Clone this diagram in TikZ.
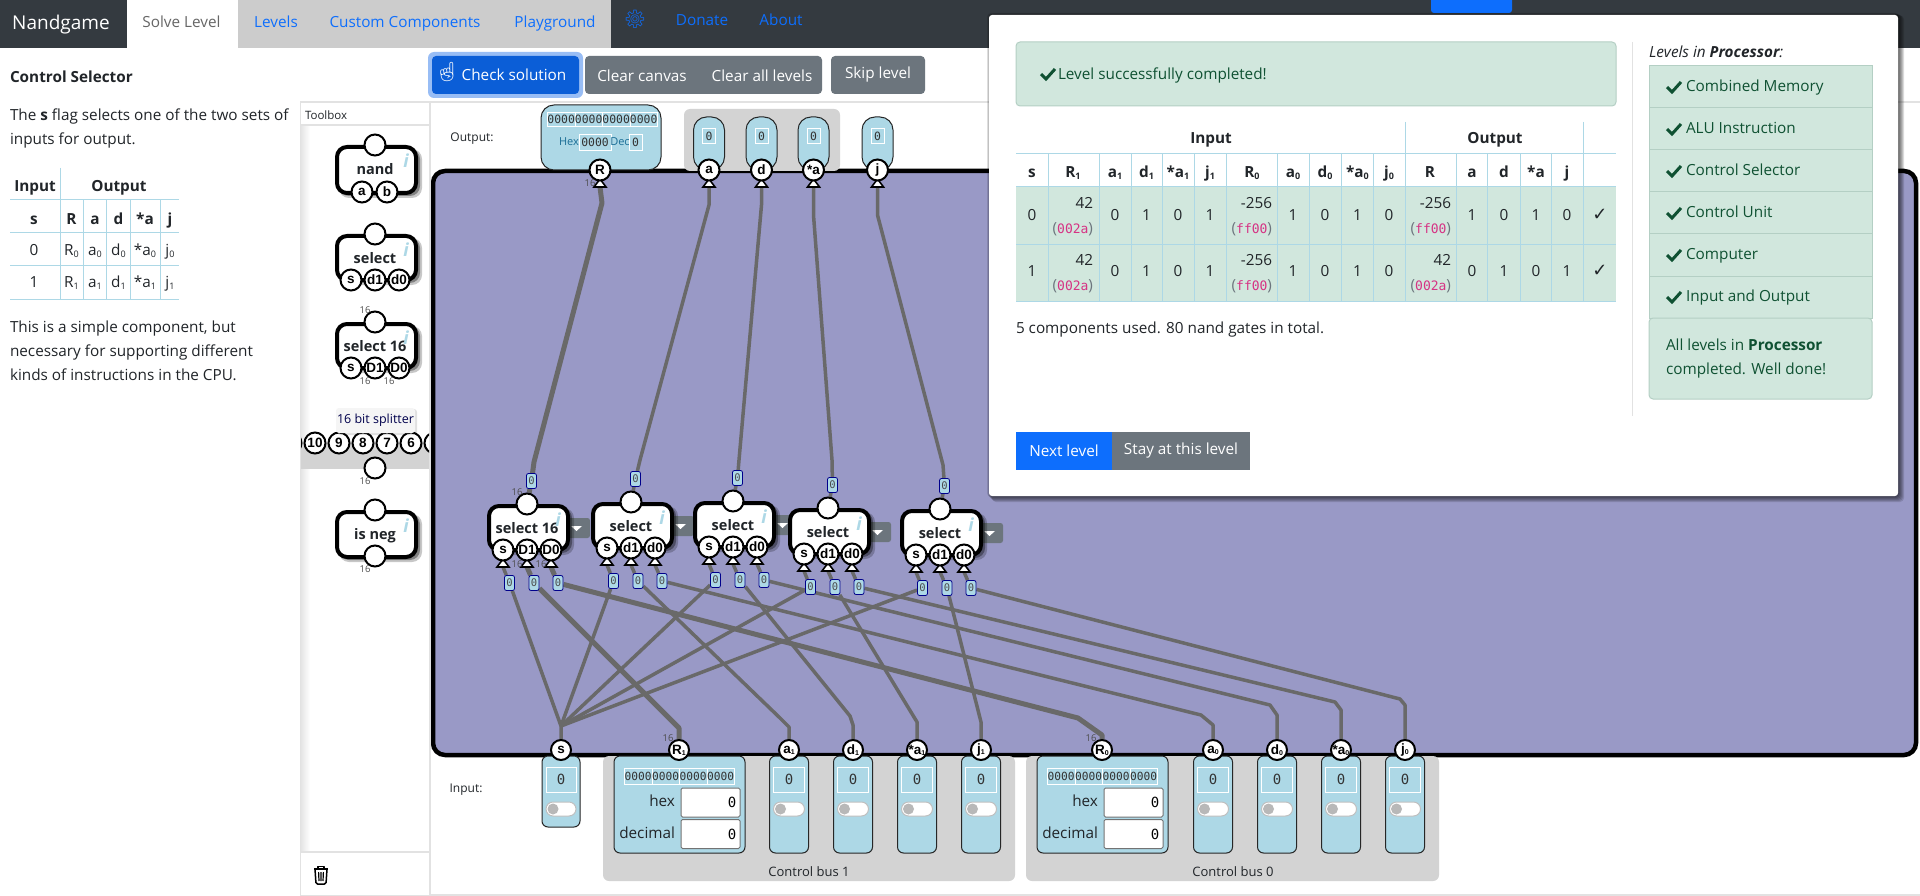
\documentclass[tikz,border=0pt]{standalone}
\usepackage{fontspec}
\setmainfont{Open Sans}
\newfontfamily\pinf{Liberation Sans}
\newfontfamily\monof{DejaVu Sans Mono}
\newfontfamily\emo{Noto Emoji}
\newfontfamily\djv{DejaVu Sans}
\usetikzlibrary{backgrounds}
\definecolor{nav}{HTML}{343A40}
\definecolor{tabgray}{HTML}{CCCCCC}
\definecolor{linkb}{HTML}{0D6EFD}
\definecolor{btnb}{HTML}{0B5ED7}
\definecolor{ring}{HTML}{98BDF5}
\definecolor{btng}{HTML}{6C757D}
\definecolor{ink}{HTML}{212529}
\definecolor{lb}{HTML}{ADD8E6}
\definecolor{board}{HTML}{9999C6}
\definecolor{busg}{HTML}{D3D3D3}
\definecolor{wirec}{HTML}{696969}
\definecolor{okbg}{HTML}{D1E7DD}
\definecolor{okbd}{HTML}{B4CFC4}
\definecolor{okfg}{HTML}{0F5132}
\definecolor{codep}{HTML}{D63384}
\definecolor{panelb}{HTML}{E2E2E2}
\definecolor{chipb}{HTML}{00008B}
\definecolor{hexc}{HTML}{1B6E96}
\pgfdeclarelayer{boardlayer}
\pgfdeclarelayer{wirelayer}
\pgfsetlayers{boardlayer,wirelayer,main}
\newcommand\fz[1]{\fontsize{#1}{#1}\selectfont}
\newcounter{tn}
\newcommand\T[4][]{\stepcounter{tn}\node[txt,#1] (t\arabic{tn}) at (#2,#3) {#4};}
\newcommand\dn[1]{\raisebox{-0.25ex}{\fontsize{9}{9}\selectfont #1}}
\newcommand\pd[1]{\raisebox{-0.15ex}{\fontsize{7}{7}\selectfont #1}}
\newcommand\hexv[1]{{\color{btng}(}{\color{codep}\monof\fz{13}#1}{\color{btng})}}
\newcommand\btxt[1]{\raisebox{-1.5pt}{#1}}
\tikzset{
 x=1pt,y=-1pt,
 txt/.style={inner sep=0pt,outer sep=0pt,text=ink,anchor=mid,font=\fz{15.3},yshift=-2pt},
 wt/.style={txt,text=white},
 bf/.style={txt,font=\fz{15.3}\bfseries},
 rgt/.style={anchor=mid east},
 lft/.style={anchor=mid west},
 tiny16/.style={txt,font=\fz{9.5},text=black!70,yshift=2pt},
 btn/.style={inner sep=0pt,rounded corners=4pt,text=white,font=\fz{15.3},anchor=center},
 pinc/.style={circle,draw=black,line width=2pt,fill=white,minimum size=21pt,inner sep=0pt,font=\pinf\bfseries\fz{13.5},text=black},
 info/.style={inner sep=0pt,text=lb,font=\fz{18}\bfseries\itshape},
 comptext/.style={inner sep=0pt,text=ink,font=\fz{14.5}\bfseries,anchor=mid,yshift=-4pt},
 chip/.style={draw=chipb,line width=.8pt,fill=lb,rounded corners=2pt,minimum width=10pt,minimum height=15pt,inner sep=0pt,font=\monof\fz{10.5},text=black!70},
 wire/.style={draw=wirec,line width=3.5pt,line join=round},
 wirex/.style={draw=wirec,line width=5pt,line join=round},
 tritip/.style={draw=black,fill=white,line width=1.6pt,line join=miter},
 valbox/.style={draw=white,line width=.8pt,inner sep=0pt,font=\monof\fz{11.4},text=black!80},
 inbox/.style={draw=black!85,line width=1pt,fill=lb,rounded corners=6pt},
 inval/.style={draw=white,line width=1pt,inner sep=0pt,font=\monof\fz{14},text=black!80,anchor=center},
 field/.style={draw=black!55,line width=1pt,fill=white,rounded corners=1.5pt,inner sep=0pt},
 listitem/.style={draw=okbd,line width=1pt,fill=okbg},
 grid/.style={draw=lb,line width=1pt},
}
\newcommand\tick[3]{\draw[line width=#3pt,okfg,line cap=butt,line join=miter] (#1-7,#2) -- (#1-2,#2+5) -- (#1+7,#2-5);}
\newcommand\tri[3]{\draw[tritip] (#2,#3+9) -- (#2+6,#3+17) -- (#2-6,#3+17) -- cycle; \coordinate (#1) at (#2,#3+17);}
\newcommand\compbase[5]{%
 \begin{scope}[shift={(#2,#3)}]
 \fill[black,opacity=.22,rounded corners=10pt] (-36,2) rectangle (47,#5+5);
 \fill[black,opacity=.35,rounded corners=10pt] (-36,2) rectangle (45,#5+3);
 \draw[line width=4pt,fill=white,rounded corners=10pt] (-38,0) rectangle (41,#5);
 \node[comptext] (#1l) at (0,21) {#4};
 \node[info] (#1i) at (31,14) {i};
 \node[pinc] (#1t) at (0,-2) {};
 \end{scope}}
% board component: name, cx, top, label, p1, p2, p3
\newcommand\bcomp[7]{%
 \fill[btng,rounded corners=2.5pt] (#2+37,#3+12) rectangle (#2+63,#3+32);
 \fill[white] (#2+44,#3+20) -- (#2+55,#3+20) -- (#2+49.5,#3+25) -- cycle;
 \tri{#1bs}{#2-24}{#3+44}
 \tri{#1bd}{#2}{#3+44}
 \tri{#1be}{#2+24}{#3+44}
 \compbase{#1}{#2}{#3}{#4}{44}
 \node[pinc] (#1s) at (#2-24,#3+44) {#5};
 \node[pinc] (#1d) at (#2,#3+44) {#6};
 \node[pinc] (#1e) at (#2+24,#3+44) {#7};
 \node[chip] (#1ct) at (#2+4.5,#3-25) {0};
 \node[chip] (#1cs) at (#2-17.5,#3+77) {0};
 \node[chip] (#1cd) at (#2+7,#3+77) {0};
 \node[chip] (#1ce) at (#2+31,#3+77) {0};
}
% input one-bit: name, cx, half width, bottom, label
\newcommand\inbit[5]{%
 \draw[inbox] (#2-#3,756) rectangle (#2+#3,#4);
 \node[inval,minimum width={2*#3-8},minimum height=25pt] (#1v) at (#2,779.5) {0};
 \draw[draw=black!25,line width=1pt,fill=white,rounded corners=7pt] (#2-#3+4,802) rectangle (#2+#3-4,816);
 \fill[black!28] (#2-#3+11,809) circle (5.5);
 \node[pinc,minimum size=20pt] (#1) at (#2,750) {#5};
}
\newcommand\bitrow[6]{% name,left,cell,top,height,font
 \foreach \i in {0,1,2,3}{\node[valbox,font=\monof\fz{#6},minimum width=#3 pt,minimum height=#5 pt,anchor=north west] (#1b\i) at (#2+\i*#3,#4) {0000};}
}
\newcommand\inword[4]{% name,left,cx,label
 \draw[inbox] (#2,756) rectangle (#2+131,853);
 \bitrow{#1}{#2+10}{27.5}{768}{16}{11.2}
 \T[rgt,font=\fz{15.3}]{#2+61}{802}{hex}
 \T[rgt,font=\fz{15.3}]{#2+61}{834}{decimal}
 \node[field,minimum width=59pt,minimum height=29pt,anchor=center,font=\monof\fz{14}] (#1h) at (#2+96.5,802.5) {\hspace*{43pt}0};
 \node[field,minimum width=59pt,minimum height=29pt,anchor=center,font=\monof\fz{14}] (#1d) at (#2+96.5,834) {\hspace*{43pt}0};
 \node[pinc,minimum size=20pt] (#1) at (#3,750) {#4};
 \T[tiny16]{#3-11}{737}{16}
}
\begin{document}
\begin{tikzpicture}
\useasboundingbox (0,0) rectangle (1920,896);
% ---------- board layer
\begin{pgfonlayer}{boardlayer}
\fill[white] (0,0) rectangle (1920,896);
\draw[panelb,line width=1.5pt] (430,102) -- (1920,102);
\draw[panelb,line width=1.5pt] (430,102) -- (430,895);
\draw[panelb,line width=1.5pt] (430,895) -- (1920,895);
\draw[line width=4.5pt,fill=board,rounded corners=12pt] (433,171) rectangle (1916,755);
\end{pgfonlayer}
% ---------- navbar
\fill[nav] (0,0) rectangle (1920,48);
\fill[white] (126.5,0) rectangle (237.5,48);
\fill[tabgray] (237.5,0) rectangle (611,48);
\fill[linkb,rounded corners=3pt] (1431,-5) rectangle (1512,13);
\T[wt,font=\fz{19}]{61}{23}{Nandgame}
\T[text=black!60]{181.5}{23}{Solve Level}
\T[text=linkb]{276}{23}{Levels}
\T[text=linkb]{405}{23}{Custom Components}
\T[text=linkb]{555}{23}{Playground}
\T[text=linkb,font=\emo\fz{18},yshift=2pt]{635}{23}{⚙}
\T[text=linkb]{702}{21}{Donate}
\T[text=linkb]{781}{21}{About}
% ---------- top buttons
\fill[ring,rounded corners=6pt] (428,52) rectangle (583,98);
\node[btn,fill=btnb,minimum width=147pt,minimum height=38pt] (bcheck) at (505.5,75) {\btxt{\hspace*{17pt}Check solution}};
\T[wt,font=\emo\fz{19},yshift=2pt]{447}{74}{☝}
\node[btn,fill=btng,minimum width=237pt,minimum height=38pt] (bclear) at (703.5,75) {};
\T[wt]{642}{75}{Clear canvas}
\T[wt]{762}{75}{Clear all levels}
\node[btn,fill=btng,minimum width=94pt,minimum height=38pt] (bskip) at (878,75) {\btxt{Skip level}};
% ---------- left column
\T[bf,lft]{10}{76}{Control Selector}
\T[lft]{10}{116}{The \textbf{s} flag selects one of the two sets of}
\T[lft]{10}{140}{inputs for output.}
\T[lft]{10}{328}{This is a simple component, but}
\T[lft]{10}{352}{necessary for supporting different}
\T[lft]{10}{376}{kinds of instructions in the CPU.}
\draw[grid] (10,200) -- (179,200) (10,233) -- (179,233) (10,266) -- (179,266) (10,299) -- (179,299);
\draw[grid] (60,168) -- (60,299);
\draw[grid] (83,200) -- (83,299) (106.5,200) -- (106.5,299) (130.5,200) -- (130.5,299) (160,200) -- (160,299);
\T[bf]{35}{185}{Input}
\T[bf]{119}{185}{Output}
\foreach \x/\t in {34/s,71.5/R,95/a,118.5/d,145/*a,170/j}{\T[bf]{\x}{218}{\t}}
\foreach \x/\t in {34/0,71.5/R\dn{0},95/a\dn{0},118.5/d\dn{0},145/*a\dn{0},170/j\dn{0}}{\T{\x}{251}{\t}}
\foreach \x/\t in {34/1,71.5/R\dn{1},95/a\dn{1},118.5/d\dn{1},145/*a\dn{1},170/j\dn{1}}{\T{\x}{283}{\t}}
% ---------- toolbox
\shade[left color=black!10,right color=white] (301,125) rectangle (310,852);
\draw[panelb,line width=1.5pt] (300.5,102) rectangle (430,896);
\draw[panelb,line width=1.5pt] (300.5,125) -- (430,125);
\draw[panelb,line width=1.5pt] (300.5,852) -- (430,852);
\T[lft,font=\fz{11.5},yshift=2pt]{305}{117}{Toolbox}
% trash can
\draw[black,line width=1.5pt,line join=round] (314,869) -- (328,869) (318,869) -- (318,866.5) -- (324,866.5) -- (324,869);
\draw[black,line width=1.5pt,line join=round,rounded corners=1.5pt] (315,869) -- (316,884) -- (326,884) -- (327,869);
\draw[black,line width=1.2pt] (318.6,872) -- (319,881) (321,872) -- (321,881) (323.4,872) -- (323,881);
\compbase{tn}{375}{147}{nand}{46}
\node[pinc] (tna) at (362,192) {a};
\node[pinc] (tnb) at (387,192) {b};
\compbase{ts}{375}{236}{select}{44}
\node[pinc] (tss) at (351,280) {s};
\node[pinc] (tsd) at (375,280) {d1};
\node[pinc] (tse) at (399,280) {d0};
\compbase{tw}{375}{324}{select 16}{44}
\node[pinc] (tws) at (351,368) {s};
\node[pinc] (twd) at (375,368) {D1};
\node[pinc] (twe) at (399,368) {D0};
\T[tiny16]{365}{309}{16}
\T[tiny16]{365}{380}{16}
\T[tiny16]{389}{380}{16}
\fill[busg] (301,443) rectangle (429,469);
\begin{scope}
\clip (301,425) rectangle (429,485);
\foreach \x/\t in {291/11,315/10,339/9,363/8,387/7,411/6,435/5}{\node[pinc] (sp\t) at (\x,443) {\t};}
\end{scope}
\node[pinc] (spo) at (375,468) {};
\T[tiny16]{365}{480}{16}
\fill[black,opacity=.12,rounded corners=3pt] (337,409) rectangle (417,435);
\fill[black!4,rounded corners=3pt] (336,408) rectangle (415,433);
\T[font=\fz{12.5},text=black!70!blue,yshift=2pt]{375.5}{421}{16 bit splitter}
\compbase{tg}{375}{512}{is neg}{45}
\node[pinc] (tgo) at (375,556) {};
\T[tiny16]{365}{568}{16}
% ---------- output area
\T[font=\fz{12},yshift=2pt]{472}{139}{Output:}
\fill[busg,rounded corners=6pt] (684,109) rectangle (840,171);
\draw[inbox,rounded corners=13pt] (541,105) rectangle (661,170);
\foreach \x/\n in {709/a,761.5/d,813.5/x,877.5/j}{
 \draw[inbox,rounded corners=13pt] (\x-15.5,117) rectangle (\x+15.5,170);
 \node[valbox,minimum width=13pt,minimum height=15pt] (ov\n) at (\x,136) {0};
}
\bitrow{oR}{547}{27.5}{112}{14}{11.4}
\T[font=\fz{11},text=hexc,yshift=2pt]{569}{143}{Hex}
\node[valbox,minimum width=32pt,minimum height=16pt] (ohex) at (595,142.5) {0000};
\T[font=\fz{11},text=hexc,yshift=2pt]{620}{143}{Dec}
\node[valbox,minimum width=13pt,minimum height=16pt] (odec) at (635.5,142.5) {0};
\tri{obR}{600}{170}
\tri{oba}{709}{170}
\tri{obd}{761.5}{170}
\tri{obx}{813.5}{170}
\tri{obj}{877.5}{170}
\node[pinc] (oR) at (600,170) {R};
\node[pinc] (oa) at (709,170) {a};
\node[pinc] (od) at (761.5,170) {d};
\node[pinc] (ox) at (813.5,170) {*a};
\node[pinc] (oj) at (877.5,170) {j};
\T[tiny16]{590}{182}{16}
% ---------- components on board
\bcomp{A}{527}{506}{select 16}{s}{D1}{D0}
\T[tiny16]{517}{491}{16}
\T[tiny16]{517}{563}{16}
\T[tiny16]{541}{563}{16}
\bcomp{B}{631}{504}{select}{s}{d1}{d0}
\bcomp{C}{733}{503}{select}{s}{d1}{d0}
\bcomp{D}{828}{510}{select}{s}{d1}{d0}
\bcomp{E}{940}{511}{select}{s}{d1}{d0}
% ---------- inputs
\T[font=\fz{12},yshift=2pt]{466}{790}{Input:}
\fill[busg,rounded corners=6pt] (603,756) rectangle (1015,881);
\fill[busg,rounded corners=6pt] (1026,756) rectangle (1439,881);
\T[font=\fz{13},yshift=1pt]{809}{873}{Control bus 1}
\T[font=\fz{13},yshift=1pt]{1233}{873}{Control bus 0}
\inbit{is}{561}{19}{827}{s}
\inbit{ia1}{789}{19.5}{853}{a\pd{1}}
\inbit{id1}{853}{19.5}{853}{d\pd{1}}
\inbit{ix1}{917}{19.5}{853}{*a\pd{1}}
\inbit{ij1}{981}{19.5}{853}{j\pd{1}}
\inbit{ia0}{1213}{19.5}{853}{a\pd{0}}
\inbit{id0}{1277}{19.5}{853}{d\pd{0}}
\inbit{ix0}{1341}{19.5}{853}{*a\pd{0}}
\inbit{ij0}{1405}{19.5}{853}{j\pd{0}}
\inword{iR1}{614}{679}{R\pd{1}}
\inword{iR0}{1037}{1102}{R\pd{0}}
% ---------- wires
\begin{pgfonlayer}{wirelayer}
\draw[wirex] (obR) -- (602,203) -- (534,462) -- (Act) -- (At);
\draw[wire] (oba) -- (709,205) -- (640,460) -- (Bct) -- (Bt);
\draw[wire] (obd) -- (761.5,205) -- (739,460) -- (Cct) -- (Ct);
\draw[wire] (obx) -- (813.5,215) -- (832,460) -- (Dct) -- (Dt);
\draw[wire] (obj) -- (877.5,215) -- (943,465) -- (Ect) -- (Et);
\coordinate (hub) at (561,726);
\draw[wire] (is) -- (hub) -- (Acs) -- (Abs);
\draw[wire] (hub) -- (Bcs) -- (Bbs);
\draw[wire] (hub) -- (Ccs) -- (Cbs);
\draw[wire] (hub) -- (Dcs) -- (Dbs);
\draw[wire] (hub) -- (Ecs) -- (Ebs);
\draw[wirex] (Abd) -- (Acd) -- (669,718) -- (679,728) -- (iR1);
\draw[wirex] (Abe) -- (Ace) -- (1078,718) -- (1102,735) -- (iR0);
\draw[wire] (Bbd) -- (Bcd) -- (780,718) -- (789,727) -- (ia1);
\draw[wire] (Bbe) -- (Bce) -- (1201,715) -- (1213,725) -- (ia0);
\draw[wire] (Cbd) -- (Ccd) -- (850,716) -- (853,725) -- (id1);
\draw[wire] (Cbe) -- (Cce) -- (1270,705) -- (1277,715) -- (id0);
\draw[wire] (Dbd) -- (Dcd) -- (917,722) -- (ix1);
\draw[wire] (Dbe) -- (Dce) -- (1335,702) -- (1341,710) -- (ix0);
\draw[wire] (Ebd) -- (Ecd) -- (981,722) -- (ij1);
\draw[wire] (Ebe) -- (Ece) -- (1400,699) -- (1405,705) -- (ij0);
\end{pgfonlayer}
% ---------- modal
\foreach \i in {0,1,2,3,4,5}{\fill[black,opacity=.13,rounded corners=4pt] (987+\i,13+\i*.5) rectangle (1899+\i,497+\i);}
\fill[white,rounded corners=3pt] (989,15) rectangle (1898,496);
\draw[okbd,line width=1pt,fill=okbg,rounded corners=4pt] (1016,42) rectangle (1616,106);
\tick{1048}{74}{3}
\T[lft,text=okfg]{1058}{75}{Level successfully completed!}
% table
\fill[okbg] (1016,187) rectangle (1616,301);
\draw[grid] (1016,154) -- (1616,154) (1016,187) -- (1616,187) (1016,245) -- (1616,245) (1016,301) -- (1616,301);
\foreach \x in {1405,1583}{\draw[grid] (\x,122) -- (\x,154);}
\foreach \x in {1048,1099,1131,1162,1194.5,1226,1277.5,1309,1341.5,1373.5,1405,1456,1487.5,1520,1551.5,1583}{\draw[grid] (\x,154) -- (\x,301);}
\T[bf]{1211}{137}{Input}
\T[bf]{1495}{137}{Output}
\foreach \x/\t in {1032/s,1073/R\dn{1},1115/a\dn{1},1146.5/d\dn{1},1178/*a\dn{1},1210/j\dn{1},1252/R\dn{0},1293/a\dn{0},1325/d\dn{0},1357.5/*a\dn{0},1389/j\dn{0},1430/R,1472/a,1504/d,1536/*a,1567/j}{\T[bf]{\x}{171}{\t}}
\foreach \x/\t in {1032/0,1115/0,1146.5/1,1178/0,1210/1,1293/1,1325/0,1357.5/1,1389/0,1472/1,1504/0,1536/1,1567/0}{\T{\x}{216}{\t}}
\foreach \x/\t in {1032/1,1115/0,1146.5/1,1178/0,1210/1,1293/1,1325/0,1357.5/1,1389/0,1472/0,1504/1,1536/0,1567/1}{\T{\x}{272}{\t}}
\T[rgt]{1093}{204}{42}\T[rgt]{1093}{229}{\hexv{002a}}
\T[rgt]{1093}{261}{42}\T[rgt]{1093}{286}{\hexv{002a}}
\T[rgt]{1272}{204}{-256}\T[rgt]{1272}{229}{\hexv{ff00}}
\T[rgt]{1272}{261}{-256}\T[rgt]{1272}{286}{\hexv{ff00}}
\T[rgt]{1451}{204}{-256}\T[rgt]{1451}{229}{\hexv{ff00}}
\T[rgt]{1451}{261}{42}\T[rgt]{1451}{286}{\hexv{002a}}
\T[font=\djv\bfseries\fz{18}]{1600}{216}{✓}
\T[font=\djv\bfseries\fz{18}]{1600}{272}{✓}
\T[lft]{1016}{329}{5 components used. 80 nand gates in total.}
\node[btn,fill=linkb,minimum width=96pt,minimum height=38pt,sharp corners] (bnext) at (1064,451) {\btxt{Next level}};
\node[btn,fill=btng,minimum width=138pt,minimum height=38pt,sharp corners] (bstay) at (1181,451) {\btxt{Stay at this level}};
\draw[panelb,line width=1pt] (1632,42) -- (1632,416);
\T[lft]{1649}{53}{\itshape Levels in \textbf{Processor}:}
\foreach \y/\t in {66/Combined Memory,108/ALU Instruction,150/Control Selector,192/Control Unit,234/Computer,276/Input and Output}{
 \draw[listitem] (1649,\y) rectangle (1872,\y+42);
 \T[lft,text=okfg]{1686}{\y+21}{\t}
 \tick{1674}{\y+21}{3}
}
\draw[okbd,line width=1pt,fill=okbg,rounded corners=4pt] (1649,318) rectangle (1872,399);
\T[lft,text=okfg]{1666}{346}{All levels in \textbf{Processor}}
\T[lft,text=okfg]{1666}{370}{completed. Well done!}
\end{tikzpicture}
\end{document}
